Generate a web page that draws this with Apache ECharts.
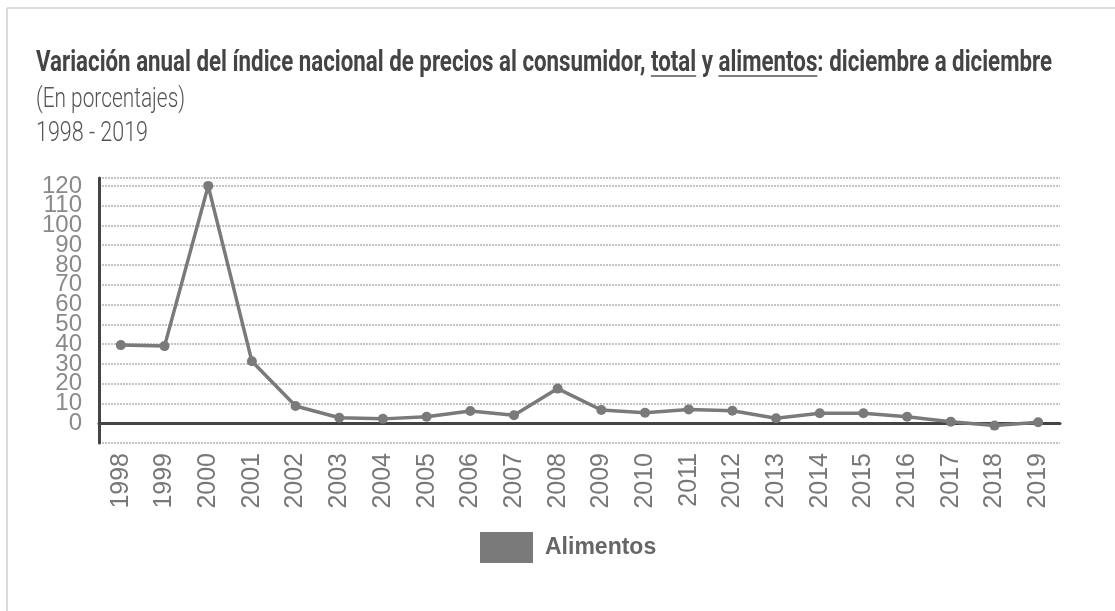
<!DOCTYPE html>
<html>
<head>
<meta charset="utf-8">
<script src="https://cdn.jsdelivr.net/npm/echarts@6/dist/echarts.min.js"></script>
<style>
html,body{margin:0;padding:0;background:#fff;}
#chart{width:1115px;height:611px;}
</style>
</head>
<body>
<div id="chart"></div>
<script>
// ---- data ----
const years = ['1998','1999','2000','2001','2002','2003','2004','2005','2006','2007','2008','2009','2010','2011','2012','2013','2014','2015','2016','2017','2018','2019'];
const alimentos = [39.5, 39, 120, 31.3, 8.7, 2.8, 2.2, 3.3, 6.2, 4.0, 17.5, 6.7, 5.3, 7.0, 6.3, 2.5, 5.0, 5.0, 3.3, 0.8, -1.2, 0.5];
const seriesName = 'Alimentos';
const yTickLabels = ['0','10','20','30','40','50','60','70','80','90','100','110','120'];
const titlePre = 'Variación anual del índice nacional de precios al consumidor, ';
const titleTotal = 'total';
const titleMid = ' y ';
const titleAlim = 'alimentos';
const titlePost = ': diciembre a diciembre';
const subtitle1 = '(En porcentajes)';
const subtitle2 = '1998 - 2019';

// ---- text measuring for condensed title emulation ----
const mctx = document.createElement('canvas').getContext('2d');
function measure(txt, font){ mctx.font = font; return mctx.measureText(txt).width; }

const titleFont = 'bold 30px Roboto';
const subFont = '300 28px Roboto';
const titleLeft = 36, titleRight = 1052;
const fullTitle = titlePre + titleTotal + titleMid + titleAlim + titlePost;
const tScale = (titleRight - titleLeft) / measure(fullTitle, titleFont);
const xTotal0 = titleLeft + measure(titlePre, titleFont) * tScale;
const xTotal1 = titleLeft + measure(titlePre + titleTotal, titleFont) * tScale;
const xAlim0 = titleLeft + measure(titlePre + titleTotal + titleMid, titleFont) * tScale;
const xAlim1 = titleLeft + measure(titlePre + titleTotal + titleMid + titleAlim, titleFont) * tScale;
const s1Scale = 149 / measure(subtitle1, subFont);
const s2Scale = 112 / measure(subtitle2, subFont);

const chart = echarts.init(document.getElementById('chart'), null, {renderer:'canvas'});
const option = {
  backgroundColor: '#fff',
  animation: false,
  graphic: [
    {type:'line', shape:{x1:7, y1:8, x2:1115, y2:8}, style:{stroke:'#cfcfcf', lineWidth:1.5}},
    {type:'line', shape:{x1:7, y1:8, x2:7, y2:611}, style:{stroke:'#cfcfcf', lineWidth:1.5}},
    {type:'text', x:titleLeft, y:63, scaleX:tScale, originX:0, originY:0,
      style:{text:fullTitle, font:titleFont, fill:'#444', verticalAlign:'middle', align:'left'}},
    {type:'line', shape:{x1:xTotal0, y1:76, x2:xTotal1, y2:76}, style:{stroke:'#555', lineWidth:1.5}},
    {type:'line', shape:{x1:xAlim0, y1:76, x2:xAlim1, y2:76}, style:{stroke:'#555', lineWidth:1.5}},
    {type:'text', x:titleLeft, y:100, scaleX:s1Scale, originX:0, originY:0,
      style:{text:subtitle1, font:subFont, fill:'#555', verticalAlign:'middle', align:'left'}},
    {type:'text', x:titleLeft, y:134, scaleX:s2Scale, originX:0, originY:0,
      style:{text:subtitle2, font:subFont, fill:'#555', verticalAlign:'middle', align:'left'}}
  ],
  legend: {
    left: 480, top: 532, padding: 0,
    icon: 'rect', itemWidth: 53, itemHeight: 31,
    textStyle: {fontFamily:'Liberation Sans, Arial, sans-serif', fontSize:23, fontWeight:'bold', color:'#666', padding:[0,0,0,7]},
    data: [{name: seriesName, itemStyle:{color:'#7a7a7a'}}]
  },
  grid: {left: 99, right: 55, top: 178, bottom: 168, containLabel:false},
  xAxis: {
    type: 'category',
    data: years,
    boundaryGap: true,
    axisLine: {onZero: true, lineStyle:{color:'#444', width:3}},
    axisTick: {show:false},
    axisLabel: {rotate: 90, margin: 10, fontFamily:'Liberation Sans, Arial, sans-serif', fontSize: 25, color:'#777'},
    splitLine: {show:false}
  },
  yAxis: {
    type: 'value',
    min: -10, max: 124, interval: 10,
    axisLine: {show:true, lineStyle:{color:'#444', width:3}},
    axisTick: {show:false},
    axisLabel: {
      showMinLabel:false, showMaxLabel:false, margin: 17,
      fontFamily:'Liberation Sans, Arial, sans-serif', fontSize: 24, color:'#8a8a8a',
      formatter: function(v){ const s = String(v); return yTickLabels.indexOf(s) >= 0 ? s : ''; }
    },
    splitLine: {show:true, lineStyle:{color:'#c4c4c4', width:2, type:[2,1]}}
  },
  series: [{
    name: seriesName,
    type: 'line',
    data: alimentos,
    symbol: 'circle',
    symbolSize: 10,
    lineStyle: {color:'#7a7a7a', width:3.5},
    itemStyle: {color:'#7a7a7a'}
  }]
};
chart.setOption(option);
</script>
</body>
</html>
